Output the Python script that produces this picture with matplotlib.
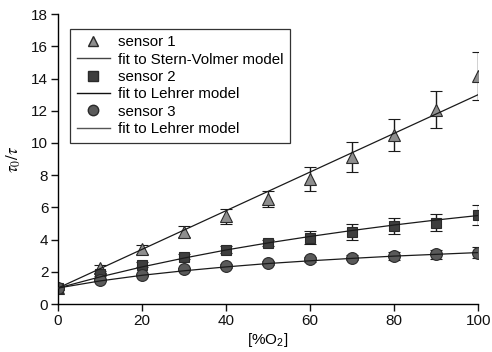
import matplotlib
matplotlib.use("Agg")
import matplotlib.pyplot as plt
from matplotlib.lines import Line2D

plt.rcParams['font.family'] = ['Liberation Sans', 'DejaVu Sans']
plt.rcParams['mathtext.fontset'] = 'stix'

o2 = [0, 10, 20, 30, 40, 50, 60, 70, 80, 90, 100]

s1 = [1.0, 2.25, 3.4, 4.5, 5.45, 6.5, 7.75, 9.15, 10.5, 12.05, 14.15]
s1_err = [0.1, 0.2, 0.3, 0.35, 0.45, 0.5, 0.75, 0.93, 1.0, 1.15, 1.5]
s1_fit = [1.0, 2.2, 3.4, 4.6, 5.8, 7.0, 8.2, 9.4, 10.6, 11.8, 13.0]

s2 = [1.0, 1.84, 2.45, 2.93, 3.39, 3.8, 4.13, 4.48, 4.85, 5.06, 5.55]
s2_err = [0.1, 0.1, 0.15, 0.15, 0.2, 0.2, 0.38, 0.48, 0.5, 0.55, 0.62]
s2_fit = [1.0, 1.69, 2.31, 2.86, 3.36, 3.80, 4.20, 4.57, 4.91, 5.22, 5.5]

s3 = [1.0, 1.49, 1.82, 2.15, 2.37, 2.56, 2.77, 2.87, 2.97, 3.08, 3.2]
s3_err = [0.05, 0.05, 0.08, 0.1, 0.1, 0.12, 0.15, 0.15, 0.25, 0.3, 0.33]
s3_fit = [1.0, 1.44, 1.79, 2.07, 2.31, 2.52, 2.69, 2.84, 2.98, 3.09, 3.2]

labels = ['sensor 1', 'fit to Stern-Volmer model', 'sensor 2',
          'fit to Lehrer model', 'sensor 3', 'fit to Lehrer model']

fig = plt.figure(figsize=(4.92, 3.52), dpi=100)
ax = fig.add_axes([0.118, 0.136, 0.854, 0.824])

ms = 8
ax.errorbar(o2, s1, yerr=s1_err, fmt='^', color='#8e8e8e', mec='#2a2a2a',
            mew=0.8, ms=ms + 0.5, ecolor='#1a1a1a', elinewidth=1.0, capsize=4,
            capthick=1.0, zorder=2)
ax.plot(o2, s1_fit, '-', color='#1a1a1a', lw=0.9, zorder=3)
ax.errorbar(o2, s2, yerr=s2_err, fmt='s', color='#3e3e3e', mec='#2a2a2a',
            mew=0.8, ms=ms - 0.5, ecolor='#1a1a1a', elinewidth=1.0, capsize=4,
            capthick=1.0, zorder=2)
ax.plot(o2, s2_fit, '-', color='#1a1a1a', lw=0.9, zorder=3)
ax.errorbar(o2, s3, yerr=s3_err, fmt='o', color='#5a5a5a', mec='#2a2a2a',
            mew=0.8, ms=ms + 0.5, ecolor='#1a1a1a', elinewidth=1.0, capsize=4,
            capthick=1.0, zorder=2)
ax.plot(o2, s3_fit, '-', color='#1a1a1a', lw=0.9, zorder=3)

mk1 = Line2D([], [], ls='none', marker='^', color='#8e8e8e', mec='#2a2a2a', ms=7)
mk2 = Line2D([], [], ls='none', marker='s', color='#3e3e3e', mec='#2a2a2a', ms=6.5)
mk3 = Line2D([], [], ls='none', marker='o', color='#5a5a5a', mec='#2a2a2a', ms=7.5)
ln1 = Line2D([], [], color='#444444', lw=1.0)
ln2 = Line2D([], [], color='#111111', lw=1.0)
ln3 = Line2D([], [], color='#555555', lw=1.0)

leg = ax.legend([mk1, ln1, mk2, ln2, mk3, ln3], labels, loc='upper left',
                bbox_to_anchor=(0.028, 0.95), fontsize=10.8, frameon=True,
                fancybox=False, edgecolor='#333333', framealpha=1,
                handlelength=2.2, labelspacing=0.22, borderpad=0.45,
                handletextpad=0.55, borderaxespad=0)
leg.get_frame().set_linewidth(0.9)

ax.set_xlim(0, 100)
ax.set_ylim(0, 18)
ax.set_xticks([0, 20, 40, 60, 80, 100])
ax.set_yticks(range(0, 19, 2))
ax.spines['top'].set_visible(False)
ax.spines['right'].set_visible(False)
for s in ['left', 'bottom']:
    ax.spines[s].set_linewidth(1.0)
ax.tick_params(direction='out', length=5, width=1.0, labelsize=11, colors='#111111', pad=2)
ax.set_xlabel(r'[%O$_\mathregular{2}$]', fontsize=11, labelpad=2)
ax.set_ylabel(r'$\tau_0/\tau$', fontsize=12, labelpad=6)

fig.savefig('out.png', dpi=100)
